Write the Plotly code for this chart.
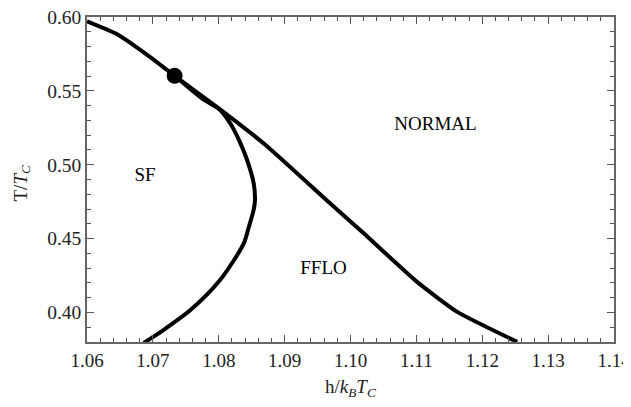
import plotly.graph_objects as go

# Upper boundary (SF/Normal then FFLO/Normal)
upper_h = [1.0600, 1.0647, 1.0698, 1.0733, 1.0799, 1.0871, 1.0969, 1.1020, 1.1101, 1.1162, 1.1253]
upper_T = [0.5970, 0.5880, 0.5722, 0.5602, 0.5385, 0.5134, 0.4739, 0.4536, 0.4207, 0.4004, 0.3801]

# Lower boundary (SF/FFLO)
lower_h = [1.0733, 1.0774, 1.0802, 1.0819, 1.0833, 1.0843, 1.0853, 1.0855, 1.0853, 1.0845, 1.0838, 1.0802, 1.0757, 1.0716, 1.0686]
lower_T = [0.5602, 0.5451, 0.5371, 0.5269, 0.5145, 0.5032, 0.4875, 0.4761, 0.4694, 0.4569, 0.4468, 0.4219, 0.4016, 0.3881, 0.3794]

# Tricritical point
point_h = [1.0733]
point_T = [0.5602]

region_labels = ["SF", "NORMAL", "FFLO"]
label_h = [1.0688, 1.1129, 1.0959]
label_T = [0.492, 0.527, 0.429]

x_title = "h/<i>k</i><sub><i>B</i></sub><i>T</i><sub><i>C</i></sub>"
y_title = "T/<i>T</i><sub><i>C</i></sub>"

FONT = "Liberation Serif"

fig = go.Figure()
fig.add_trace(go.Scatter(x=upper_h, y=upper_T, mode="lines",
                         line=dict(color="black", width=4, shape="spline", smoothing=0.5),
                         showlegend=False))
fig.add_trace(go.Scatter(x=lower_h, y=lower_T, mode="lines",
                         line=dict(color="black", width=4, shape="spline", smoothing=0.8),
                         showlegend=False))
fig.add_trace(go.Scatter(x=point_h, y=point_T, mode="markers",
                         marker=dict(color="black", size=16),
                         showlegend=False))
fig.add_trace(go.Scatter(x=label_h, y=label_T, mode="text", text=region_labels,
                         textfont=dict(family=FONT, size=19, color="black"),
                         showlegend=False))

axis_common = dict(
    showgrid=False, zeroline=False, showline=True, linecolor="#666666", linewidth=1.5,
    mirror="allticks", ticks="inside", ticklen=7, tickcolor="#555555", tickwidth=1,
    automargin=False, ticklabeloverflow="allow",
)

fig.update_xaxes(range=[1.06, 1.14], dtick=0.01, tickformat=".2f",
                 tickfont=dict(family=FONT, size=19, color="#222222"),
                 minor=dict(ticks="inside", ticklen=4, dtick=0.002, tickcolor="#555555"),
                 **axis_common)
fig.update_yaxes(range=[0.38, 0.60], dtick=0.05, tickformat=".2f",
                 tickfont=dict(family=FONT, size=19.5, color="#222222"),
                 minor=dict(ticks="inside", ticklen=4, dtick=0.01, tickcolor="#555555"),
                 **axis_common)

fig.add_annotation(text=x_title, xref="paper", yref="paper", x=0.5, y=0,
                   xanchor="center", yanchor="middle", yshift=-46, showarrow=False,
                   borderpad=0, font=dict(family=FONT, size=19, color="#222222"))
fig.add_annotation(text=y_title, xref="paper", yref="paper", x=0, y=0.5,
                   xanchor="center", yanchor="middle", xshift=-66, yshift=-4,
                   textangle=-90, showarrow=False,
                   borderpad=0, font=dict(family=FONT, size=19, color="#222222"))

# The page body adds an 8px offset, so the figure is sized to fit the window.
fig.update_layout(width=623, height=399, margin=dict(l=79, r=17, t=9, b=65),
                  plot_bgcolor="white", paper_bgcolor="white")

fig.write_html("out.html")
